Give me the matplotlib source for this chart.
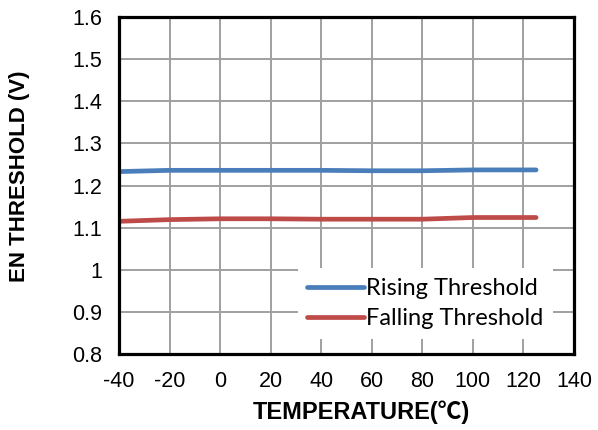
import matplotlib
matplotlib.use("Agg")
import matplotlib.pyplot as plt

plt.rcParams["axes.unicode_minus"] = False

temps = [-40, -20, 0, 20, 40, 60, 80, 100, 125]
rising = [1.233, 1.236, 1.236, 1.236, 1.236, 1.235, 1.235, 1.237, 1.237]
falling = [1.115, 1.119, 1.121, 1.121, 1.120, 1.120, 1.120, 1.124, 1.124]

xticks = [-40, -20, 0, 20, 40, 60, 80, 100, 120, 140]
yticks = [0.8, 0.9, 1.0, 1.1, 1.2, 1.3, 1.4, 1.5, 1.6]
ytick_labels = ["0.8", "0.9", "1", "1.1", "1.2", "1.3", "1.4", "1.5", "1.6"]

fig = plt.figure(figsize=(5.98, 4.30), dpi=100)
L, R, T, B = 119, 574, 17, 354
ax = fig.add_axes([L/598, 1-B/430, (R-L)/598, (B-T)/430])

ax.plot(temps, rising, color="#4a7ebb", lw=3.4, solid_capstyle="round", label="Rising Threshold", zorder=3)
ax.plot(temps, falling, color="#be4b48", lw=3.4, solid_capstyle="round", label="Falling Threshold", zorder=3)

ax.set_xlim(-40, 140)
ax.set_ylim(0.8, 1.6)
ax.set_xticks(xticks)
ax.set_yticks(yticks)
ax.set_yticklabels(ytick_labels)
ax.grid(True, color="#a0a0a0", lw=1.4)
ax.tick_params(length=0, labelsize=15.5)
ax.tick_params(axis="x", pad=12)
ax.tick_params(axis="y", pad=12)
for lab in ax.get_xticklabels() + ax.get_yticklabels():
    lab.set_fontfamily("Liberation Sans")
for s in ax.spines.values():
    s.set_linewidth(2.3)
    s.set_color("black")
    s.set_zorder(6)

fam = ["Liberation Sans", "Noto Sans CJK SC", "DejaVu Sans"]
ax.set_xlabel("TEMPERATURE(℃)", fontsize=17, fontweight="bold", family=fam, va="center")
ax.set_ylabel("EN THRESHOLD (V)", fontsize=16, fontweight="bold", family=fam, va="center")
ax.xaxis.set_label_coords((361-L)/(R-L), (B-412)/(B-T))
ax.yaxis.set_label_coords((20-L)/(R-L), (B-176)/(B-T))

leg = ax.legend(loc="lower right", bbox_to_anchor=(0.98, 0.01), frameon=True,
                fancybox=False, framealpha=1, edgecolor="white",
                prop={"family": "Lato", "size": 17}, handlelength=2.4,
                handletextpad=0.1, borderpad=0.4, labelspacing=0.4)
leg.get_frame().set_linewidth(0)
leg.set_zorder(5)

fig.savefig("out.png", dpi=100)
